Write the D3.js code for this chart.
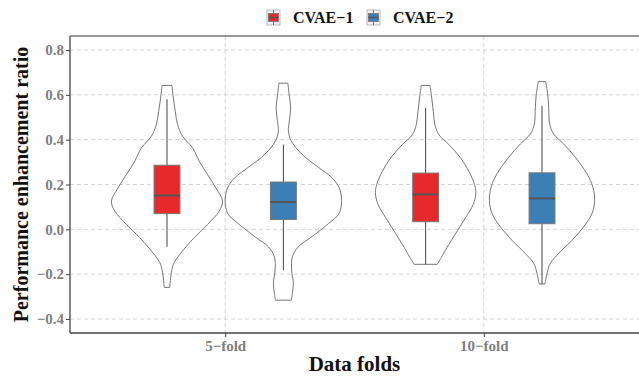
<!DOCTYPE html>
<html>
<head>
<meta charset="utf-8">
<script src="https://cdn.jsdelivr.net/npm/d3@7"></script>
<style>
  body { margin: 0; background: #fff; }
  svg text { font-family: "Liberation Serif", "Times New Roman", serif; font-weight: bold; }
</style>
</head>
<body>
<svg id="chart" width="639" height="377"></svg>
<script>
// categories and groups
var folds = ["5\u2212fold", "10\u2212fold"];
var models = ["CVAE\u22121", "CVAE\u22122"];
var modelColors = ["#E8292B", "#3B7FB7"];
var yTicks = [-0.4, -0.2, 0.0, 0.2, 0.4, 0.6, 0.8];

// violin outlines: [value, relative density]
var v5c1 = [[0.642,0.086],[0.600,0.103],[0.526,0.143],[0.467,0.183],[0.415,0.269],[0.363,0.441],[0.304,0.554],[0.244,0.698],[0.185,0.840],[0.126,0.955],[0.081,0.897],[0.022,0.698],[-0.037,0.468],[-0.096,0.269],[-0.148,0.125],[-0.185,0.081],[-0.259,0.046]];
var v5c2 = [[0.652,0.077],[0.603,0.098],[0.544,0.125],[0.485,0.103],[0.440,0.086],[0.396,0.132],[0.336,0.314],[0.277,0.600],[0.232,0.828],[0.188,0.955],[0.129,1.000],[0.070,0.955],[0.025,0.772],[-0.034,0.485],[-0.078,0.257],[-0.123,0.154],[-0.182,0.142],[-0.241,0.172],[-0.286,0.154],[-0.316,0.137]];
var v10c1 = [[0.642,0.074],[0.600,0.098],[0.526,0.132],[0.467,0.160],[0.422,0.228],[0.378,0.400],[0.319,0.600],[0.259,0.743],[0.200,0.840],[0.163,0.863],[0.111,0.818],[0.052,0.686],[-0.007,0.544],[-0.067,0.400],[-0.126,0.269],[-0.156,0.200]];
var v10c2 = [[0.659,0.063],[0.603,0.098],[0.544,0.115],[0.470,0.132],[0.425,0.201],[0.381,0.372],[0.322,0.571],[0.248,0.772],[0.188,0.875],[0.129,0.904],[0.070,0.858],[0.011,0.715],[-0.049,0.515],[-0.108,0.286],[-0.152,0.142],[-0.197,0.086],[-0.244,0.051]];

// box stats: [lower whisker, q1, median, q3, upper whisker]
var b5c1 = [-0.078, 0.070, 0.151, 0.286, 0.581];
var b5c2 = [-0.182, 0.044, 0.122, 0.211, 0.378];
var b10c1 = [-0.156, 0.034, 0.156, 0.251, 0.541];
var b10c2 = [-0.244, 0.025, 0.138, 0.252, 0.551];

var groups = [
  {fold: folds[0], model: 0, violin: v5c1, box: b5c1},
  {fold: folds[0], model: 1, violin: v5c2, box: b5c2},
  {fold: folds[1], model: 0, violin: v10c1, box: b10c1},
  {fold: folds[1], model: 1, violin: v10c2, box: b10c2}
];

function Draw(){
  var svg = d3.select("#chart");
  var pL = 70, pR = 639, pT = 36, pB = 333;

  var x = d3.scalePoint().domain(folds).range([pL, pR]).padding(0.6);
  var y = d3.scaleLinear().domain([-0.4625, 0.8625]).range([pB, pT]);
  var step = x.step();
  var dodge = 0.225 * step;
  var maxHalf = 0.225 * step;
  var boxHalf = 0.05 * step;

  // grid
  svg.append("g").selectAll("line").data(yTicks).join("line")
    .attr("x1", pL).attr("x2", pR)
    .attr("y1", d => y(d)).attr("y2", d => y(d))
    .attr("stroke", "#d4d4d4").attr("stroke-dasharray", "4,3");
  svg.append("g").selectAll("line").data(folds).join("line")
    .attr("x1", d => x(d)).attr("x2", d => x(d))
    .attr("y1", pT).attr("y2", pB)
    .attr("stroke", "#d4d4d4").attr("stroke-dasharray", "4,3");

  // violins + boxes
  var area = d3.area()
    .curve(d3.curveCatmullRom)
    .y(d => y(d[0]));

  groups.forEach(function(g){
    var cx = x(g.fold) + (g.model === 0 ? -dodge : dodge);
    area.x0(d => cx - d[1] * maxHalf).x1(d => cx + d[1] * maxHalf);
    svg.append("path").datum(g.violin)
      .attr("d", area)
      .attr("fill", "none")
      .attr("stroke", "#666").attr("stroke-width", 0.9);

    var b = g.box;
    svg.append("line").attr("x1", cx).attr("x2", cx)
      .attr("y1", y(b[4])).attr("y2", y(b[3]))
      .attr("stroke", "#444").attr("stroke-width", 1);
    svg.append("line").attr("x1", cx).attr("x2", cx)
      .attr("y1", y(b[1])).attr("y2", y(b[0]))
      .attr("stroke", "#444").attr("stroke-width", 1);
    svg.append("rect")
      .attr("x", cx - boxHalf).attr("width", 2 * boxHalf)
      .attr("y", y(b[3])).attr("height", y(b[1]) - y(b[3]))
      .attr("fill", modelColors[g.model])
      .attr("stroke", "#777").attr("stroke-width", 1);
    svg.append("line").attr("x1", cx - boxHalf).attr("x2", cx + boxHalf)
      .attr("y1", y(b[2])).attr("y2", y(b[2]))
      .attr("stroke", "#555").attr("stroke-width", 2);
  });

  // panel top line
  svg.append("line").attr("x1", pL).attr("x2", pR).attr("y1", pT).attr("y2", pT)
    .attr("stroke", "#333").attr("stroke-width", 1);

  // axes
  var yAxis = svg.append("g").attr("transform", "translate(" + pL + ",0)")
    .call(d3.axisLeft(y).tickValues(yTicks).tickFormat(d3.format(".1f")).tickSize(4).tickPadding(2));
  var xAxis = svg.append("g").attr("transform", "translate(0," + pB + ")")
    .call(d3.axisBottom(x).tickSize(4).tickPadding(3));
  [yAxis, xAxis].forEach(function(a){
    a.attr("font-size", null).attr("font-family", null);
    a.select(".domain").attr("stroke", "#444").attr("stroke-width", 1.3);
    a.selectAll(".tick line").attr("stroke", "#444");
    a.selectAll(".tick text").attr("fill", "#7f7f7f").style("font-size", "15px");
  });
  yAxis.selectAll(".tick text").text(d => d3.format(".1f")(d).replace("-", "\u2212"));
  yAxis.select(".domain").attr("d", "M0," + pT + "V" + pB);
  xAxis.select(".domain").attr("d", "M" + pL + ",0H" + pR);

  // axis titles
  svg.append("text").attr("x", (pL + pR) / 2).attr("y", 371)
    .attr("text-anchor", "middle").style("font-size", "21px").attr("fill", "#111")
    .text("Data folds");
  svg.append("text")
    .attr("transform", "translate(28," + ((pT + pB) / 2) + ") rotate(-90)")
    .attr("text-anchor", "middle").style("font-size", "20px").attr("fill", "#111")
    .text("Performance enhancement ratio");

  // legend
  var legendX = [267, 367];
  models.forEach(function(m, i){
    var g = svg.append("g").attr("transform", "translate(" + legendX[i] + ",10)");
    g.append("rect").attr("x", 0).attr("y", 0).attr("width", 13).attr("height", 15)
      .attr("fill", "#f2f2f2").attr("stroke", "#aaa").attr("stroke-width", 0.8);
    g.append("line").attr("x1", 6.5).attr("x2", 6.5).attr("y1", 0).attr("y2", 15)
      .attr("stroke", "#555").attr("stroke-width", 0.8);
    g.append("rect").attr("x", 1.5).attr("y", 3.5).attr("width", 10).attr("height", 8)
      .attr("fill", modelColors[i]).attr("stroke", "#777").attr("stroke-width", 0.8);
    g.append("line").attr("x1", 1.5).attr("x2", 11.5).attr("y1", 7.5).attr("y2", 7.5)
      .attr("stroke", "#555").attr("stroke-width", 1.5);
    g.append("text").attr("x", 26).attr("y", 13).style("font-size", "16px").attr("fill", "#111")
      .text(m);
  });
}

Draw();
</script>
</body>
</html>
